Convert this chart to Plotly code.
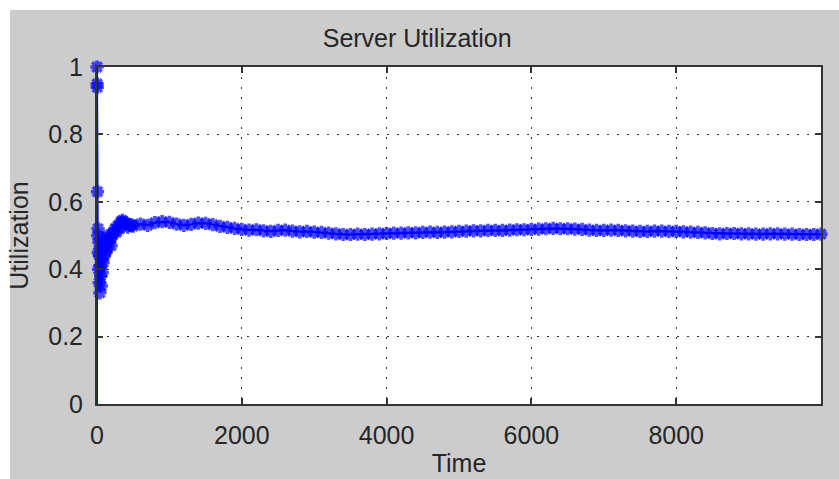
import plotly.graph_objects as go

# ---- data ----
time_early = [0, 0, 2, 4, 7, 10, 14, 18, 22, 26, 30, 35, 40, 45, 50, 55, 60, 66, 72,
              78, 85, 92, 100, 110, 120, 130, 140, 150, 165, 180, 195, 210, 230,
              250, 270, 290, 310, 330, 350, 375, 400, 425, 450, 475]
util_early = [0.0, 1.0, 0.95, 0.94, 0.63, 0.50, 0.52, 0.45, 0.40, 0.48, 0.36, 0.44,
              0.33, 0.41, 0.38, 0.46, 0.35, 0.43, 0.39, 0.47, 0.42, 0.49, 0.44,
              0.47, 0.45, 0.49, 0.46, 0.50, 0.48, 0.49, 0.47, 0.50, 0.51, 0.52,
              0.51, 0.53, 0.52, 0.54, 0.545, 0.54, 0.535, 0.525, 0.53, 0.532]

time_late = [500, 600, 700, 800, 900, 1000, 1100, 1200, 1300, 1400,
             1500, 1600, 1700, 1800, 1900, 2000, 2100, 2200, 2300, 2400,
             2500, 2600, 2700, 2800, 2900, 3000, 3100, 3200, 3300, 3400,
             3500, 3600, 3700, 3800, 3900, 4000, 4100, 4200, 4300, 4400,
             4500, 4600, 4700, 4800, 4900, 5000, 5100, 5200, 5300, 5400,
             5500, 5600, 5700, 5800, 5900, 6000, 6100, 6200, 6300, 6400,
             6500, 6600, 6700, 6800, 6900, 7000, 7100, 7200, 7300, 7400,
             7500, 7600, 7700, 7800, 7900, 8000, 8100, 8200, 8300, 8400,
             8500, 8600, 8700, 8800, 8900, 9000, 9100, 9200, 9300, 9400,
             9500, 9600, 9700, 9800, 9900, 10000]
util_late = [0.528, 0.534, 0.530, 0.538, 0.541, 0.539, 0.534, 0.530, 0.533, 0.537,
             0.536, 0.532, 0.527, 0.524, 0.521, 0.518, 0.516, 0.517, 0.514, 0.512,
             0.515, 0.516, 0.513, 0.511, 0.512, 0.510, 0.509, 0.507, 0.505, 0.503,
             0.503, 0.504, 0.503, 0.504, 0.505, 0.506, 0.507, 0.507, 0.508, 0.508,
             0.509, 0.510, 0.509, 0.510, 0.511, 0.512, 0.513, 0.514, 0.514, 0.515,
             0.515, 0.515, 0.516, 0.517, 0.517, 0.518, 0.519, 0.520, 0.521, 0.520,
             0.520, 0.519, 0.518, 0.516, 0.515, 0.515, 0.516, 0.515, 0.514, 0.513,
             0.512, 0.512, 0.513, 0.513, 0.512, 0.512, 0.511, 0.510, 0.509, 0.508,
             0.506, 0.505, 0.506, 0.506, 0.505, 0.505, 0.504, 0.504, 0.505, 0.505,
             0.504, 0.504, 0.503, 0.503, 0.503, 0.504]

x_ticks = [0, 2000, 4000, 6000, 8000]
x_tick_labels = ["0", "2000", "4000", "6000", "8000"]
y_ticks = [0, 0.2, 0.4, 0.6, 0.8, 1]
y_tick_labels = ["0", "0.2", "0.4", "0.6", "0.8", "1"]

title_text = "Server Utilization"
x_title = "Time"
y_title = "Utilization"

# ---- figure ----
times = time_early + time_late
utils = util_early + util_late
sizes = [0] + [11] * (len(times) - 1)

BLUE = "#0000ff"
DARK = "#262626"
FONT = "Liberation Sans"
FS = 25

fig = go.Figure()
fig.add_trace(go.Scatter(
    x=times, y=utils, mode="lines+markers",
    line=dict(color=BLUE, width=2),
    marker=dict(symbol="asterisk-open", size=sizes,
                line=dict(color=BLUE, width=3.6), color=BLUE),
    cliponaxis=False, showlegend=False, hoverinfo="skip",
))

W, H = 839, 479
L, R, T, B = 97, 18, 67, 75
pw, ph = W - L - R, H - T - B

def px_x(p):
    return (p - L) / pw

def px_y(p):
    return (H - B - p) / ph

fig.update_layout(
    width=W, height=H,
    margin=dict(l=L, r=R, t=T, b=B, autoexpand=False),
    paper_bgcolor="#cccccc", plot_bgcolor="white",
    font=dict(family=FONT, size=FS, color=DARK),
    title=dict(text=title_text, x=px_x(457), xanchor="center",
               y=1 - 38 / H, yanchor="middle",
               font=dict(family=FONT, size=FS, color=DARK)),
    shapes=[
        dict(type="rect", xref="paper", yref="paper",
             x0=px_x(-5), x1=px_x(W + 5), y0=px_y(10), y1=px_y(-5),
             fillcolor="white", line=dict(width=0), layer="above"),
        dict(type="rect", xref="paper", yref="paper",
             x0=px_x(-5), x1=px_x(10), y0=px_y(H + 5), y1=px_y(-5),
             fillcolor="white", line=dict(width=0), layer="above"),
    ],
)

axis_common = dict(
    showline=True, linecolor="#333333", linewidth=2, mirror="ticks",
    ticks="inside", ticklen=6, tickwidth=1.5, tickcolor="#333333",
    showgrid=True, gridcolor="#333333", gridwidth=1.2, griddash="2px,8px",
    zeroline=False, tickfont=dict(family=FONT, size=FS, color=DARK),
)

fig.update_xaxes(
    range=[0, 10000], tickvals=x_ticks, ticktext=x_tick_labels,
    title=dict(text=x_title, standoff=6, font=dict(family=FONT, size=FS, color=DARK)),
    ticklabelstandoff=8, automargin=False, **axis_common,
)
fig.update_yaxes(
    range=[0, 1], tickvals=y_ticks, ticktext=y_tick_labels,
    title=dict(text=y_title, standoff=12, font=dict(family=FONT, size=FS, color=DARK)),
    ticklabelstandoff=7, automargin=False, **axis_common,
)

fig.write_html(
    "out.html",
    config={"displayModeBar": False},
    post_script="document.body.style.margin='0';document.body.style.overflow='hidden';",
)
